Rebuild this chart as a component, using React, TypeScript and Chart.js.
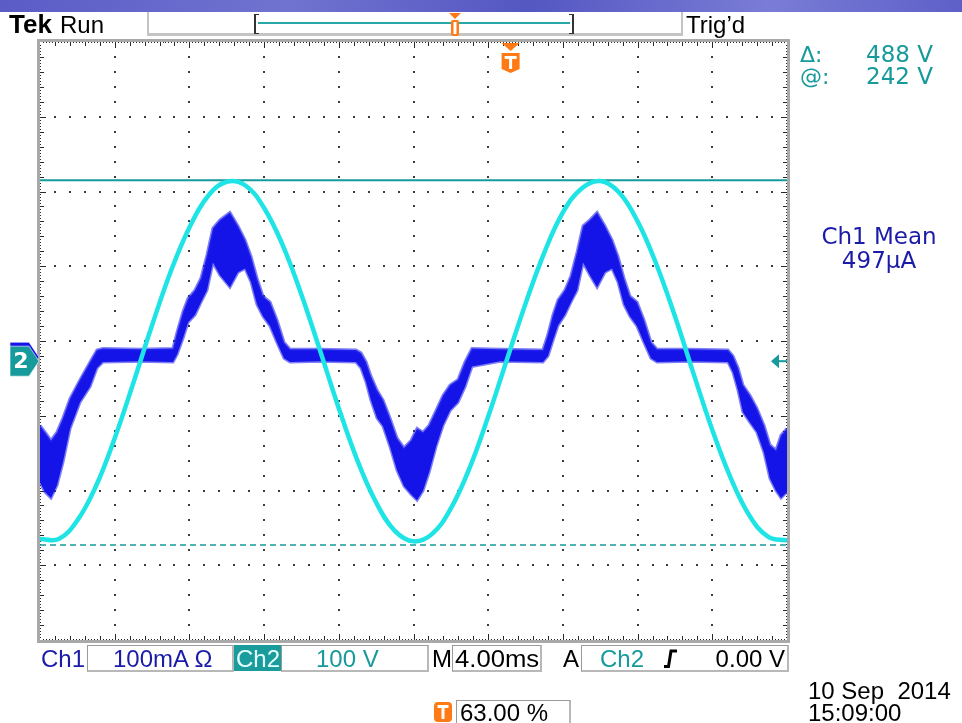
import React, { useEffect, useRef } from "react";
import { Chart, registerables } from "chart.js";

Chart.register(...registerables);

// ---- scope settings ----
const timePerDivMs = 4;
const horizontalDivs = 10;
const verticalDivs = 8;
const ch1PerDiv = 100; // mA / div
const ch2PerDiv = 100; // V / div
const ch1GroundDiv = -0.19; // ground offset from screen centre (div)
const ch2GroundDiv = -0.27;
const triggerPercent = 63;
const triggerLevelV = 0;
const cursorAtV = 242;
const cursorDeltaV = 488;

// ---- Ch2 (voltage) trace, ms / V ----
const ch2Time = [0, 1, 2, 3, 4, 5, 6, 7, 8, 9, 10, 11, 12, 13, 14, 15, 16, 17, 18, 19, 20, 21, 22, 23, 24, 25, 26, 27, 28, 29, 30, 31, 32, 33, 34, 35, 36, 37, 38, 39, 40];
const ch2Volts = [-238, -238, -213, -167, -103, -29, 48, 120, 179, 221, 240, 235, 205, 155, 89, 14, -63, -133, -189, -227, -241, -231, -197, -143, -74, 2, 77, 145, 199, 231, 241, 226, 187, 130, 60, -17, -92, -157, -207, -235, -240];

// ---- Ch1 (current) trace envelope, ms / mA ----
const ch1Time = [0, 0.27, 0.59, 0.91, 1.23, 1.61, 2.14, 2.68, 3.05, 3.37, 5.35, 7.12, 7.34, 7.66, 7.93, 8.3, 8.62, 8.94, 9.26, 9.64, 10.17, 10.6, 10.98, 11.3, 11.62, 11.94, 12.32, 12.69, 13.07, 13.39, 14.99, 16.92, 17.19, 17.46, 17.72, 18.05, 18.37, 18.74, 19.12, 19.49, 19.87, 20.19, 20.51, 20.83, 21.21, 21.58, 21.96, 22.38, 22.76, 23.13, 24.63, 26.93, 27.2, 27.47, 27.74, 28.11, 28.43, 28.76, 29.08, 29.45, 29.83, 30.25, 30.63, 30.95, 31.27, 31.59, 31.97, 32.34, 32.72, 33.04, 34.81, 36.84, 37.11, 37.38, 37.64, 38.02, 38.39, 38.77, 39.09, 39.41, 39.68, 40.0];
const ch1Upper = [-94, -103, -114, -103, -84, -58, -33, -9, 7, 9, 8, 9, 31, 58, 76, 87, 103, 134, 170, 181, 191, 173, 154, 132, 103, 79, 71, 47, 17, 8, 8, 7, 3, -9, -28, -47, -60, -84, -111, -124, -114, -98, -103, -94, -74, -54, -40, -33, -9, 9, 8, 7, 28, 54, 74, 87, 106, 138, 173, 181, 191, 173, 154, 132, 103, 79, 71, 47, 17, 8, 8, 7, -1, -17, -40, -54, -71, -94, -120, -127, -107, -98];
const ch1Lower = [-170, -183, -191, -174, -143, -98, -63, -42, -17, -9, -8, -9, 1, 23, 44, 54, 71, 87, 124, 107, 91, 111, 116, 98, 68, 52, 39, 17, -4, -9, -8, -9, -17, -36, -60, -84, -95, -122, -154, -175, -186, -194, -181, -157, -122, -94, -74, -63, -42, -15, -8, -9, -1, 20, 40, 54, 71, 87, 124, 107, 91, 111, 116, 98, 68, 52, 39, 17, -4, -9, -8, -9, -23, -47, -76, -90, -103, -130, -165, -181, -191, -183];

// ---- readout texts ----
const headerLeft = "Run";
const headerRight = "Trig\u2019d";
const meanLabel = "Ch1 Mean";
const meanValue = "497\u00b5A";
const ch1Scale = "100mA \u03a9";
const ch2Scale = "100 V";
const timeBase = "4.00ms";
const trigLevelText = "0.00 V";
const dateText = "10 Sep  2014";
const timeText = "15:09:00";

const TEAL = "#169a9b";
const CYAN = "#1ee4e6";
const BLUE = "#1414e8";
const NAVY = "#1b1ba8";
const ORANGE = "#ff7a14";
const LIB = '"Liberation Sans", Arial, sans-serif';
const DV = '"DejaVu Sans", Verdana, sans-serif';

const W = 962;

const scopePlugin = {
  id: "scopeScreen",
  beforeDatasetsDraw(chart: any) {
    const { ctx, chartArea: a } = chart;
    const w = a.right - a.left;
    const h = a.bottom - a.top;
    const dx = w / horizontalDivs;
    const dy = h / verticalDivs;
    ctx.save();
    ctx.fillStyle = "#3c3c3c";
    for (let i = 1; i < horizontalDivs; i++) {
      const x = Math.round(a.left + i * dx);
      for (let k = 1; k < verticalDivs * 5; k++) {
        const y = Math.round(a.top + (k * dy) / 5);
        ctx.fillRect(x - 1, y - 1, 2, 2);
      }
    }
    for (let j = 1; j < verticalDivs; j++) {
      const y = Math.round(a.top + j * dy);
      for (let k = 1; k < horizontalDivs * 5; k++) {
        const x = Math.round(a.left + (k * dx) / 5);
        ctx.fillRect(x - 1, y - 1, 2, 2);
      }
    }
    // frame
    ctx.strokeStyle = "#a9a9a9";
    ctx.lineWidth = 3;
    ctx.strokeRect(a.left - 1.5, a.top - 1.5, w + 3, h + 3);
    // ruler ticks
    ctx.fillStyle = "#2a2a2a";
    for (let k = 1; k < horizontalDivs * 25; k++) {
      const x = Math.round(a.left + (k * dx) / 25);
      const len = k % 25 === 0 ? 6 : k % 5 === 0 ? 4 : 1;
      ctx.fillRect(x, a.top, 1, len);
      ctx.fillRect(x, a.bottom - len, 1, len);
    }
    for (let k = 1; k < verticalDivs * 25; k++) {
      const y = Math.round(a.top + (k * dy) / 25);
      const len = k % 25 === 0 ? 6 : k % 5 === 0 ? 4 : 1;
      ctx.fillRect(a.left, y, len, 1);
      ctx.fillRect(a.right - len, y, len, 1);
    }
    ctx.restore();
  },
  afterDatasetsDraw(chart: any) {
    const { ctx, chartArea: a, scales } = chart;
    ctx.save();
    // channel ground markers (left)
    const marker = (yc: number, fill: string, label: string) => {
      ctx.beginPath();
      ctx.moveTo(10, yc - 15);
      ctx.lineTo(29, yc - 15);
      ctx.lineTo(39, yc);
      ctx.lineTo(29, yc + 15);
      ctx.lineTo(10, yc + 15);
      ctx.closePath();
      ctx.fillStyle = fill;
      ctx.fill();
      ctx.strokeStyle = "rgba(255,255,255,0.6)";
      ctx.lineWidth = 1;
      ctx.stroke();
      if (label) {
        ctx.fillStyle = "#fff";
        ctx.font = 'bold 22px "DejaVu Sans", sans-serif';
        ctx.textAlign = "center";
        ctx.textBaseline = "middle";
        ctx.fillText(label, 21, yc + 1);
      }
    };
    marker(scales.y1.getPixelForValue(0) + 2, BLUE, "");
    marker(scales.y.getPixelForValue(0), TEAL, "2");
    // trigger level arrow (right)
    const yt = scales.y.getPixelForValue(triggerLevelV);
    ctx.fillStyle = TEAL;
    ctx.beginPath();
    ctx.moveTo(a.right - 16, yt);
    ctx.lineTo(a.right - 8, yt - 7);
    ctx.lineTo(a.right - 8, yt + 7);
    ctx.closePath();
    ctx.fill();
    ctx.fillRect(a.right - 9, yt - 1, 9, 2);
    // trigger position marker (top)
    const xt = scales.x.getPixelForValue((triggerPercent / 100) * timePerDivMs * horizontalDivs);
    ctx.fillStyle = ORANGE;
    ctx.beginPath();
    ctx.moveTo(xt - 9, a.top + 1);
    ctx.lineTo(xt + 9, a.top + 1);
    ctx.lineTo(xt, a.top + 9);
    ctx.closePath();
    ctx.fill();
    ctx.beginPath();
    ctx.moveTo(xt - 9, a.top + 11);
    ctx.lineTo(xt + 9, a.top + 11);
    ctx.lineTo(xt + 9, a.top + 27);
    ctx.lineTo(xt, a.top + 31);
    ctx.lineTo(xt - 9, a.top + 27);
    ctx.closePath();
    ctx.fill();
    ctx.fillStyle = "#fff";
    ctx.fillRect(xt - 6, a.top + 14, 12, 3);
    ctx.fillRect(xt - 1.5, a.top + 14, 3, 13);
    ctx.restore();
  },
};

function Txt(props: any) {
  const { x, base, size, color = "#000", weight = 400, family = LIB, align = "left", sx = 1, children } = props;
  const style: any = {
    position: "absolute",
    top: base - 0.85 * size,
    fontSize: size,
    lineHeight: `${size}px`,
    color,
    fontWeight: weight,
    fontFamily: family,
    whiteSpace: "pre",
  };
  if (align === "left") {
    style.left = x;
    style.transform = `scaleX(${sx})`;
    style.transformOrigin = "left center";
  } else if (align === "right") {
    style.right = W - x;
    style.transform = `scaleX(${sx})`;
    style.transformOrigin = "right center";
  } else {
    style.left = x;
    style.transform = `translateX(-50%) scaleX(${sx})`;
  }
  return <div style={style}>{children}</div>;
}

function Box(props: any) {
  const { x, y, w, h, bg = "transparent" } = props;
  return (
    <div
      style={{
        position: "absolute",
        left: x,
        top: y,
        width: w,
        height: h,
        boxSizing: "border-box",
        border: "1px solid #9a9a9a",
        borderRight: "2px solid #b8b8b8",
        borderBottom: "2px solid #b8b8b8",
        background: bg,
      }}
    />
  );
}

export default function App() {
  const canvasRef = useRef<HTMLCanvasElement | null>(null);

  useEffect(() => {
    const canvas = canvasRef.current;
    if (!canvas) return;
    const ch2Center = -ch2GroundDiv * ch2PerDiv;
    const ch1Center = -ch1GroundDiv * ch1PerDiv;
    const half = verticalDivs / 2;
    const chart = new Chart(canvas, {
      type: "line",
      data: {
        datasets: [
          {
            label: "Ch2",
            data: ch2Time.map((t, i) => ({ x: t, y: ch2Volts[i] })),
            borderColor: CYAN,
            borderWidth: 4.5,
            pointRadius: 0,
            tension: 0.4,
            yAxisID: "y",
            fill: false,
          },
          {
            label: "Ch1 upper",
            data: ch1Time.map((t, i) => ({ x: t, y: ch1Upper[i] })),
            borderColor: "rgba(40,40,238,0.6)",
            backgroundColor: BLUE,
            borderWidth: 3,
            pointRadius: 0,
            tension: 0,
            yAxisID: "y1",
            fill: "+1",
          },
          {
            label: "Ch1 lower",
            data: ch1Time.map((t, i) => ({ x: t, y: ch1Lower[i] })),
            borderColor: "rgba(40,40,238,0.6)",
            borderWidth: 3,
            pointRadius: 0,
            tension: 0,
            yAxisID: "y1",
            fill: false,
          },
          {
            label: "cursor @",
            data: [
              { x: 0, y: cursorAtV },
              { x: timePerDivMs * horizontalDivs, y: cursorAtV },
            ],
            borderColor: TEAL,
            borderWidth: 2,
            pointRadius: 0,
            yAxisID: "y",
            fill: false,
          },
          {
            label: "cursor delta",
            data: [
              { x: 0, y: cursorAtV - cursorDeltaV },
              { x: timePerDivMs * horizontalDivs, y: cursorAtV - cursorDeltaV },
            ],
            borderColor: TEAL,
            borderWidth: 1.5,
            borderDash: [6, 4],
            pointRadius: 0,
            yAxisID: "y",
            fill: false,
          },
        ],
      },
      options: {
        responsive: false,
        animation: false,
        devicePixelRatio: 1,
        events: [],
        layout: { padding: { left: 40, right: 175, top: 42, bottom: 83 } },
        plugins: { legend: { display: false }, tooltip: { enabled: false } },
        scales: {
          x: { type: "linear", min: 0, max: timePerDivMs * horizontalDivs, display: false },
          y: { type: "linear", min: ch2Center - half * ch2PerDiv, max: ch2Center + half * ch2PerDiv, display: false },
          y1: { type: "linear", min: ch1Center - half * ch1PerDiv, max: ch1Center + half * ch1PerDiv, display: false },
        },
      },
      plugins: [scopePlugin],
    } as any);
    return () => chart.destroy();
  }, []);

  return (
    <div
      style={{
        position: "absolute",
        left: 0,
        top: 0,
        width: W,
        height: 723,
        background: "#fff",
        overflow: "hidden",
        fontFamily: LIB,
      }}
    >
      <canvas ref={canvasRef} width={W} height={723} style={{ position: "absolute", left: 0, top: 0, width: W, height: 723 }} />
      {/* title band */}
      <div
        style={{
          position: "absolute",
          left: 0,
          top: 0,
          width: W,
          height: 12,
          background: "linear-gradient(90deg, #5b5cc6 0%, #7173d0 30%, #5557c2 55%, #7a7cd6 80%, #5e60c8 100%)",
        }}
      />
      {/* header */}
      <Txt x={9} base={33} size={26} weight={700}>Tek</Txt>
      <Txt x={60} base={33} size={24}>{headerLeft}</Txt>
      <div
        style={{
          position: "absolute",
          left: 147,
          top: 12,
          width: 536,
          height: 24,
          boxSizing: "border-box",
          borderLeft: "2px solid #c4c4c4",
          borderRight: "2px solid #c4c4c4",
          borderBottom: "3px solid #c4c4c4",
        }}
      />
      <div style={{ position: "absolute", left: 254, top: 14, width: 5, height: 20, boxSizing: "border-box", borderLeft: "2px solid #333", borderTop: "1.5px solid #333", borderBottom: "1.5px solid #333" }} />
      <div style={{ position: "absolute", left: 569, top: 14, width: 5, height: 20, boxSizing: "border-box", borderRight: "2px solid #333", borderTop: "1.5px solid #333", borderBottom: "1.5px solid #333" }} />
      <div style={{ position: "absolute", left: 258, top: 22, width: 312, height: 2, background: "#2aa7a7" }} />
      <svg style={{ position: "absolute", left: 446, top: 12 }} width={18} height={26}>
        <polygon points="3,1 15,1 9,7" fill={ORANGE} />
        <rect x={5} y={8} width={8} height={16} rx={2} fill={ORANGE} />
        <rect x={7.5} y={10} width={3} height={12} fill="#fff" />
      </svg>
      <Txt x={686} base={33} size={24}>{headerRight}</Txt>

      {/* readouts right */}
      <Txt x={800} base={63} size={22} color={TEAL} family={DV}>{"\u0394:"}</Txt>
      <Txt x={933} base={63} size={23} color={TEAL} family={DV} align="right">{`${cursorDeltaV} V`}</Txt>
      <Txt x={800} base={85} size={22} color={TEAL} family={DV}>{"@:"}</Txt>
      <Txt x={933} base={85} size={23} color={TEAL} family={DV} align="right">{`${cursorAtV} V`}</Txt>
      <Txt x={879} base={245} size={23} color={NAVY} family={DV} align="center">{meanLabel}</Txt>
      <Txt x={879} base={269} size={23} color={NAVY} family={DV} align="center">{meanValue}</Txt>

      {/* status bar */}
      <Txt x={41} base={667} size={24} color={NAVY}>Ch1</Txt>
      <Box x={87} y={645} w={147} h={27} />
      <Txt x={113} base={667} size={24} color={NAVY}>{ch1Scale}</Txt>
      <div style={{ position: "absolute", left: 234, top: 645, width: 47, height: 26, background: "#1b9c9c" }} />
      <Txt x={236} base={667} size={24} color="#e6ffff">Ch2</Txt>
      <Box x={281} y={645} w={148} h={27} />
      <Txt x={316} base={667} size={24} color={TEAL}>{ch2Scale}</Txt>
      <Txt x={432} base={667} size={24}>M</Txt>
      <Box x={452} y={645} w={90} h={27} />
      <Txt x={455} base={667} size={24} sx={1.07}>{timeBase}</Txt>
      <Txt x={563} base={667} size={24}>A</Txt>
      <Box x={581} y={645} w={208} h={27} />
      <Txt x={600} base={667} size={24} color={TEAL}>Ch2</Txt>
      <svg style={{ position: "absolute", left: 662, top: 648 }} width={18} height={22}>
        <path d="M2 18.5 L6.5 18.5 L9 3 L15 3" stroke="#000" strokeWidth={3} fill="none" />
      </svg>
      <Txt x={785} base={667} size={24} align="right">{trigLevelText}</Txt>

      {/* bottom lines */}
      <Txt x={808} base={699} size={24}>{dateText}</Txt>
      <Txt x={808} base={721} size={24}>{timeText}</Txt>
      <svg style={{ position: "absolute", left: 433, top: 701 }} width={20} height={22}>
        <rect x={1} y={1} width={18} height={20} rx={4} fill={ORANGE} />
        <rect x={4.5} y={4} width={11} height={3} fill="#fff" />
        <rect x={8.5} y={4} width={3} height={14} fill="#fff" />
      </svg>
      <Box x={456} y={700} w={115} h={26} />
      <Txt x={460} base={721} size={24}>63.00 %</Txt>
    </div>
  );
}
